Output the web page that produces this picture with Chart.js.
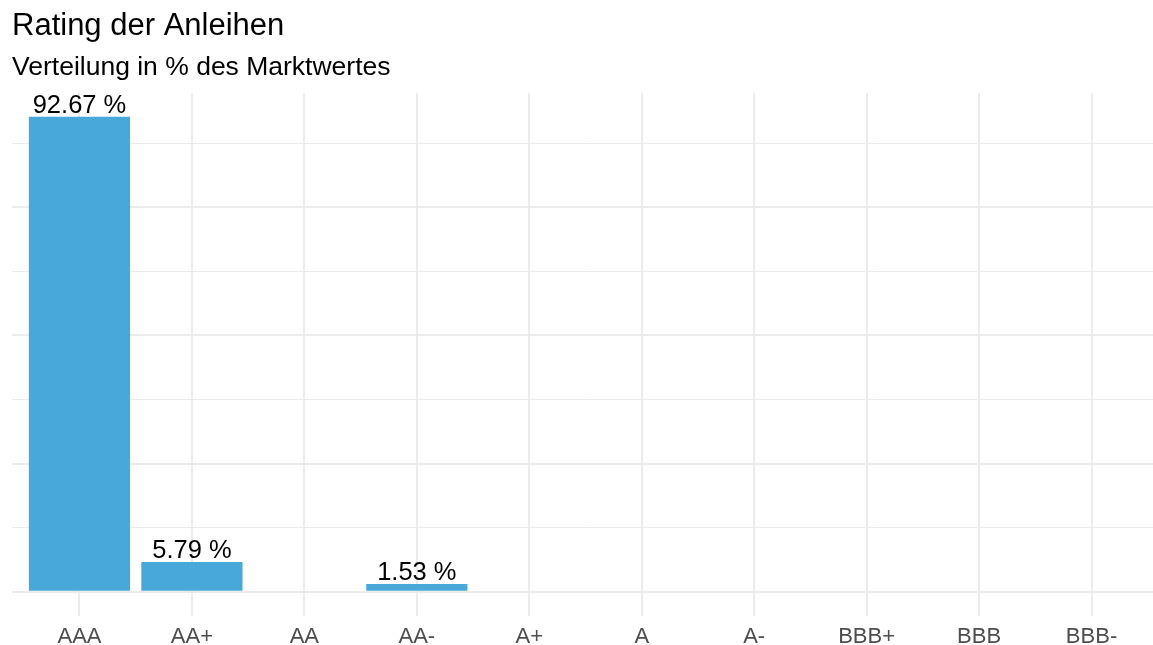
<!DOCTYPE html>
<html>
<head>
<meta charset="utf-8">
<script src="https://cdn.jsdelivr.net/npm/chart.js@4/dist/chart.umd.min.js"></script>
<style>
  html, body { margin: 0; padding: 0; background: #fff; overflow: hidden; width: 1153px; height: 645px; }
  #wrap { width: 1153px; height: 645px; overflow: hidden; position: relative; }
  canvas { display: block; }
</style>
</head>
<body>
<div id="wrap"><canvas id="c" width="1160" height="645"></canvas></div>
<script>
const categories = ['AAA', 'AA+', 'AA', 'AA-', 'A+', 'A', 'A-', 'BBB+', 'BBB', 'BBB-'];
const values = [92.67, 5.79, 0, 1.53, 0, 0, 0, 0, 0, 0];
const majorTicks = [0, 25, 50, 75];
const minorTicks = [12.5, 37.5, 62.5, 87.5];

const FONT = "'Liberation Sans', Arial, sans-serif";
const BAR_COLOR = '#48A8D9';
const GRID = '#EBEBEB';

const maxVal = Math.max(...values);
const yPad = maxVal * 0.05;

const labelPlugin = {
  id: 'barLabels',
  afterDatasetsDraw(chart) {
    const ctx = chart.ctx;
    const meta = chart.getDatasetMeta(0);
    ctx.save();
    ctx.font = '25.5px ' + FONT;
    ctx.fillStyle = '#000';
    ctx.textAlign = 'center';
    ctx.textBaseline = 'alphabetic';
    meta.data.forEach((bar, i) => {
      const v = values[i];
      if (v > 0) {
        ctx.fillText(v.toFixed(2) + ' %', bar.x, bar.y - 4);
      }
    });
    ctx.restore();
  }
};

new Chart(document.getElementById('c'), {
  type: 'bar',
  data: {
    datasets: [{
      data: values.map((v, i) => ({ x: i, y: v })),
      backgroundColor: BAR_COLOR,
      borderWidth: 0,
      barPercentage: 0.9,
      categoryPercentage: 1.0
    }]
  },
  options: {
    responsive: false,
    animation: false,
    layout: { padding: { left: 12, right: 1, top: 0, bottom: 0 } },
    plugins: {
      legend: { display: false },
      tooltip: { enabled: false },
      title: {
        display: true,
        text: 'Rating der Anleihen',
        align: 'start',
        color: '#000',
        font: { family: FONT, size: 31, weight: 'normal', lineHeight: 1.2 },
        padding: { top: 8, bottom: 7 }
      },
      subtitle: {
        display: true,
        text: 'Verteilung in % des Marktwertes',
        align: 'start',
        color: '#000',
        font: { family: FONT, size: 26.5, weight: 'normal', lineHeight: 1.2 },
        padding: { top: 0, bottom: 9 }
      }
    },
    scales: {
      x: {
        type: 'linear',
        offset: false,
        min: -0.6,
        max: categories.length - 1 + 0.6,
        afterBuildTicks(scale) {
          scale.ticks = categories.map((_, i) => ({ value: i }));
        },
        afterFit(scale) {
          scale.height = 29.5;
        },
        ticks: {
          autoSkip: false,
          maxRotation: 0,
          padding: 10.9,
          color: '#4D4D4D',
          font: { family: FONT, size: 22, lineHeight: 1.0 },
          callback: (v) => categories[v]
        },
        grid: { color: GRID, lineWidth: 2, drawTicks: false, offset: false },
        border: { display: false }
      },
      y: {
        min: -yPad,
        max: maxVal + yPad,
        afterBuildTicks(scale) {
          scale.ticks = majorTicks.concat(minorTicks).sort((a, b) => a - b).map(v => ({ value: v }));
        },
        ticks: { display: false },
        grid: {
          color: GRID,
          drawTicks: false,
          lineWidth: (c) => (majorTicks.includes(c.tick && c.tick.value) ? 2 : 1)
        },
        border: { display: false }
      }
    }
  },
  plugins: [labelPlugin]
});
</script>
</body>
</html>
